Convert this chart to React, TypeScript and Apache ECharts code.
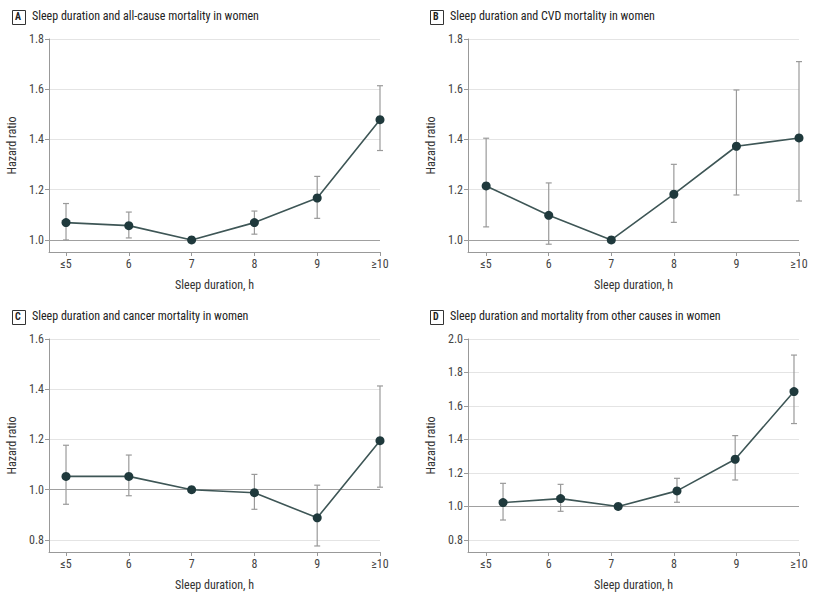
import React, { useEffect, useRef } from "react";
import * as echarts from "echarts";

const titles = [
  "Sleep duration and all-cause mortality in women",
  "Sleep duration and CVD mortality in women",
  "Sleep duration and cancer mortality in women",
  "Sleep duration and mortality from other causes in women",
];
const panelLetters = ["A", "B", "C", "D"];
const categoryTicks = [5, 6, 7, 8, 9, 10];
const categoryLabels = ["≤5", "6", "7", "8", "9", "≥10"];

// x positions of points (D is slightly shifted in the original)
const xA = [5, 6, 7, 8, 9, 10];
const xB = [5, 6, 7, 8, 9, 10];
const xC = [5, 6, 7, 8, 9, 10];
const xD = [5.27, 6.19, 7.11, 8.05, 8.98, 9.92];

const hrA = [1.069, 1.057, 1.0, 1.069, 1.167, 1.479];
const loA = [1.0, 1.008, null, 1.023, 1.086, 1.356];
const hiA = [1.145, 1.111, null, 1.115, 1.253, 1.614];

const hrB = [1.215, 1.098, 1.0, 1.182, 1.373, 1.406];
const loB = [1.052, 0.983, null, 1.07, 1.179, 1.155];
const hiB = [1.405, 1.227, null, 1.301, 1.597, 1.71];

const hrC = [1.053, 1.053, 1.0, 0.988, 0.888, 1.195];
const loC = [0.942, 0.976, null, 0.922, 0.776, 1.01];
const hiC = [1.177, 1.138, null, 1.061, 1.018, 1.413];

const hrD = [1.023, 1.047, 1.0, 1.093, 1.282, 1.686];
const loD = [0.919, 0.971, null, 1.025, 1.158, 1.495];
const hiD = [1.138, 1.132, null, 1.168, 1.423, 1.904];

const yTicksA = [1.0, 1.2, 1.4, 1.6, 1.8];
const yTicksB = [1.0, 1.2, 1.4, 1.6, 1.8];
const yTicksC = [0.8, 1.0, 1.2, 1.4, 1.6];
const yTicksD = [0.8, 1.0, 1.2, 1.4, 1.6, 1.8, 2.0];

const FONT = "'Liberation Sans Narrow', 'Roboto Condensed', 'Liberation Sans', sans-serif";

export default function App() {
  const ref = useRef<HTMLDivElement>(null);
  useEffect(() => {
    if (!ref.current) return;
    const chart = echarts.init(ref.current, undefined, { renderer: "svg" });

    const panels = [
      { x: xA, hr: hrA, lo: loA, hi: hiA, yt: yTicksA, ymin: 0.952, ymax: 1.8, xmin: 4.729, left: 49, top: 39 },
      { x: xB, hr: hrB, lo: loB, hi: hiB, yt: yTicksB, ymin: 0.952, ymax: 1.8, xmin: 4.71, left: 468, top: 39 },
      { x: xC, hr: hrC, lo: loC, hi: hiC, yt: yTicksC, ymin: 0.752, ymax: 1.6, xmin: 4.729, left: 49, top: 339 },
      { x: xD, hr: hrD, lo: loD, hi: hiD, yt: yTicksD, ymin: 0.728, ymax: 2.0, xmin: 4.71, left: 468, top: 339 },
    ];

    const grid: any[] = [];
    const xAxis: any[] = [];
    const yAxis: any[] = [];
    const series: any[] = [];
    const graphic: any[] = [];

    panels.forEach((p, i) => {
      grid.push({ left: p.left, top: p.top, width: 331, height: 213 });
      xAxis.push({
        type: "value",
        gridIndex: i,
        min: p.xmin,
        max: 10,
        name: "Sleep duration, h",
        nameLocation: "middle",
        nameGap: 27,
        nameTextStyle: { fontFamily: FONT, fontSize: 12, color: "#333" },
        axisLine: { show: true, lineStyle: { color: "#999", width: 1 } },
        axisTick: { show: true, length: 4, customValues: categoryTicks, lineStyle: { color: "#999" } },
        axisLabel: {
          customValues: categoryTicks,
          fontFamily: FONT,
          fontSize: 12,
          color: "#444",
          margin: 6,
          formatter: (v: number) => {
            const idx = categoryTicks.indexOf(Math.round(v));
            return idx >= 0 ? categoryLabels[idx] : "";
          },
        },
        splitLine: { show: false },
      });
      yAxis.push({
        type: "value",
        gridIndex: i,
        min: p.ymin,
        max: p.ymax,
        name: "Hazard ratio",
        nameLocation: "middle",
        nameRotate: 90,
        nameGap: 31,
        nameTextStyle: { fontFamily: FONT, fontSize: 12, color: "#333" },
        axisLine: { show: true, lineStyle: { color: "#999", width: 1 } },
        axisTick: { show: true, length: 4, customValues: p.yt, lineStyle: { color: "#999" } },
        axisLabel: {
          customValues: p.yt,
          fontFamily: FONT,
          fontSize: 12,
          color: "#444",
          margin: 5,
          formatter: (v: number) => v.toFixed(1),
        },
        splitLine: { show: true, lineStyle: { color: "#e4e4e4", width: 1 } },
      });

      const errData = p.x
        .map((xv, k) => (p.lo[k] == null ? null : [xv, p.lo[k], p.hi[k]]))
        .filter((d) => d != null);

      series.push({
        type: "custom",
        xAxisIndex: i,
        yAxisIndex: i,
        silent: true,
        z: 2,
        data: errData,
        renderItem: (params: any, api: any) => {
          const xv = api.value(0);
          const lo = api.coord([xv, api.value(1)]);
          const hi = api.coord([xv, api.value(2)]);
          const cap = 3;
          const style = { stroke: "#9a9a9a", lineWidth: 1.2 };
          return {
            type: "group",
            children: [
              { type: "line", shape: { x1: lo[0], y1: lo[1], x2: hi[0], y2: hi[1] }, style },
              { type: "line", shape: { x1: lo[0] - cap, y1: lo[1], x2: lo[0] + cap, y2: lo[1] }, style },
              { type: "line", shape: { x1: hi[0] - cap, y1: hi[1], x2: hi[0] + cap, y2: hi[1] }, style },
            ],
          };
        },
      });

      series.push({
        type: "line",
        xAxisIndex: i,
        yAxisIndex: i,
        data: p.x.map((xv, k) => [xv, p.hr[k]]),
        symbol: "circle",
        symbolSize: 9,
        z: 3,
        lineStyle: { color: "#3e5656", width: 1.6 },
        itemStyle: { color: "#1f393c", borderWidth: 0 },
        markLine: {
          silent: true,
          symbol: "none",
          label: { show: false },
          lineStyle: { color: "#a0a0a0", width: 1.2, type: "solid" },
          data: [{ yAxis: 1.0 }],
          z: 1,
        },
      });

      const ox = i % 2 === 0 ? 0 : 418;
      const oy = i < 2 ? 0 : 300;
      graphic.push({
        type: "rect",
        left: ox + 12,
        top: oy + 10,
        shape: { width: 13, height: 14 },
        style: { fill: "#fff", stroke: "#333", lineWidth: 1 },
      });
      graphic.push({
        type: "text",
        left: ox + 15,
        top: oy + 11.5,
        style: { text: panelLetters[i], fontFamily: FONT, fontSize: 10, fontWeight: "bold", fill: "#222" },
      });
      graphic.push({
        type: "text",
        left: ox + 32,
        top: oy + 10,
        style: { text: titles[i], fontFamily: FONT, fontSize: 12, fill: "#222" },
      });
    });

    chart.setOption({
      animation: false,
      backgroundColor: "#fff",
      grid,
      xAxis,
      yAxis,
      series,
      graphic,
    });
    return () => chart.dispose();
  }, []);
  return (
    <div
      ref={ref}
      style={{ position: "fixed", left: 0, top: 0, width: 834, height: 594, background: "#fff" }}
    />
  );
}
